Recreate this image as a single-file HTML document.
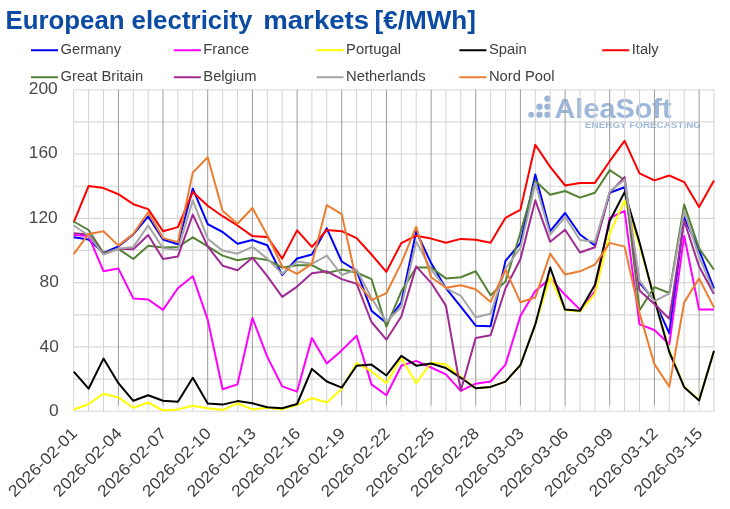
<!DOCTYPE html><html><head><meta charset="utf-8"><style>html,body{margin:0;padding:0;background:#fff}svg{display:block}text{font-family:"Liberation Sans",sans-serif}</style></head><body>
<svg style="will-change:transform" width="730" height="509" viewBox="0 0 730 509">
<rect width="730" height="509" fill="#fff"/>
<text x="5.5" y="28.9" font-size="25.2" font-weight="bold" fill="#0B4BA3" textLength="119" lengthAdjust="spacingAndGlyphs">European</text>
<text x="131.5" y="28.9" font-size="25.2" font-weight="bold" fill="#0B4BA3" textLength="121" lengthAdjust="spacingAndGlyphs">electricity</text>
<text x="263.2" y="28.9" font-size="25.2" font-weight="bold" fill="#0B4BA3" textLength="106" lengthAdjust="spacingAndGlyphs">markets</text>
<text x="374.5" y="28.9" font-size="25.2" font-weight="bold" fill="#0B4BA3" textLength="101.5" lengthAdjust="spacingAndGlyphs">[€/MWh]</text>
<g fill="#9DB7DB">
<circle cx="531.2" cy="114.65" r="2.9"/>
<circle cx="539.5" cy="106.7" r="3.2"/>
<circle cx="539.5" cy="114.65" r="3.2"/>
<circle cx="547.4" cy="98.7" r="3.1"/>
<circle cx="547.4" cy="106.7" r="3.1"/>
<circle cx="547.4" cy="114.65" r="3.1"/>
<text x="554.5" y="117.5" font-size="28.3" font-weight="bold" textLength="117" lengthAdjust="spacingAndGlyphs">AleaSoft</text>
<text x="585" y="127.6" font-size="8.3" font-weight="bold" textLength="116" lengthAdjust="spacingAndGlyphs">ENERGY FORECASTING</text>
</g>
<g stroke="#D8D8D8" stroke-width="1.15" fill="none">
<line x1="73.7" y1="411.2" x2="714.0" y2="411.2"/>
<line x1="73.7" y1="379.1" x2="714.0" y2="379.1"/>
<line x1="73.7" y1="346.9" x2="714.0" y2="346.9"/>
<line x1="73.7" y1="314.8" x2="714.0" y2="314.8"/>
<line x1="73.7" y1="282.6" x2="714.0" y2="282.6"/>
<line x1="73.7" y1="250.4" x2="714.0" y2="250.4"/>
<line x1="73.7" y1="218.3" x2="714.0" y2="218.3"/>
<line x1="73.7" y1="186.2" x2="714.0" y2="186.2"/>
<line x1="73.7" y1="154.0" x2="714.0" y2="154.0"/>
<line x1="73.7" y1="121.9" x2="714.0" y2="121.9"/>
<line x1="73.7" y1="89.7" x2="714.0" y2="89.7"/>
</g>
<g stroke="#D4D4D4" stroke-width="1" fill="none">
<line x1="73.7" y1="89.7" x2="73.7" y2="411.2"/>
<line x1="88.6" y1="89.7" x2="88.6" y2="411.2"/>
<line x1="103.5" y1="89.7" x2="103.5" y2="411.2"/>
<line x1="133.3" y1="89.7" x2="133.3" y2="411.2"/>
<line x1="148.2" y1="89.7" x2="148.2" y2="411.2"/>
<line x1="177.9" y1="89.7" x2="177.9" y2="411.2"/>
<line x1="192.8" y1="89.7" x2="192.8" y2="411.2"/>
<line x1="222.6" y1="89.7" x2="222.6" y2="411.2"/>
<line x1="237.5" y1="89.7" x2="237.5" y2="411.2"/>
<line x1="267.3" y1="89.7" x2="267.3" y2="411.2"/>
<line x1="282.2" y1="89.7" x2="282.2" y2="411.2"/>
<line x1="311.9" y1="89.7" x2="311.9" y2="411.2"/>
<line x1="326.8" y1="89.7" x2="326.8" y2="411.2"/>
<line x1="356.6" y1="89.7" x2="356.6" y2="411.2"/>
<line x1="371.5" y1="89.7" x2="371.5" y2="411.2"/>
<line x1="401.3" y1="89.7" x2="401.3" y2="411.2"/>
<line x1="416.2" y1="89.7" x2="416.2" y2="411.2"/>
<line x1="445.9" y1="89.7" x2="445.9" y2="411.2"/>
<line x1="460.8" y1="89.7" x2="460.8" y2="411.2"/>
<line x1="490.6" y1="89.7" x2="490.6" y2="411.2"/>
<line x1="505.5" y1="89.7" x2="505.5" y2="411.2"/>
<line x1="535.3" y1="89.7" x2="535.3" y2="411.2"/>
<line x1="550.2" y1="89.7" x2="550.2" y2="411.2"/>
<line x1="580.0" y1="89.7" x2="580.0" y2="411.2"/>
<line x1="594.9" y1="89.7" x2="594.9" y2="411.2"/>
<line x1="624.6" y1="89.7" x2="624.6" y2="411.2"/>
<line x1="639.5" y1="89.7" x2="639.5" y2="411.2"/>
<line x1="669.3" y1="89.7" x2="669.3" y2="411.2"/>
<line x1="684.2" y1="89.7" x2="684.2" y2="411.2"/>
<line x1="714.0" y1="89.7" x2="714.0" y2="411.2"/>
</g>
<g stroke="#9C9C9C" stroke-width="1" fill="none">
<line x1="118.4" y1="89.7" x2="118.4" y2="405.8"/>
<line x1="118.4" y1="405.8" x2="118.4" y2="411.2" stroke="#E6E6E6"/>
<line x1="163.0" y1="89.7" x2="163.0" y2="405.8"/>
<line x1="163.0" y1="405.8" x2="163.0" y2="411.2" stroke="#E6E6E6"/>
<line x1="207.7" y1="89.7" x2="207.7" y2="405.8"/>
<line x1="207.7" y1="405.8" x2="207.7" y2="411.2" stroke="#E6E6E6"/>
<line x1="252.4" y1="89.7" x2="252.4" y2="405.8"/>
<line x1="252.4" y1="405.8" x2="252.4" y2="411.2" stroke="#E6E6E6"/>
<line x1="297.1" y1="89.7" x2="297.1" y2="405.8"/>
<line x1="297.1" y1="405.8" x2="297.1" y2="411.2" stroke="#E6E6E6"/>
<line x1="341.7" y1="89.7" x2="341.7" y2="405.8"/>
<line x1="341.7" y1="405.8" x2="341.7" y2="411.2" stroke="#E6E6E6"/>
<line x1="386.4" y1="89.7" x2="386.4" y2="405.8"/>
<line x1="386.4" y1="405.8" x2="386.4" y2="411.2" stroke="#E6E6E6"/>
<line x1="431.1" y1="89.7" x2="431.1" y2="405.8"/>
<line x1="431.1" y1="405.8" x2="431.1" y2="411.2" stroke="#E6E6E6"/>
<line x1="475.7" y1="89.7" x2="475.7" y2="405.8"/>
<line x1="475.7" y1="405.8" x2="475.7" y2="411.2" stroke="#E6E6E6"/>
<line x1="520.4" y1="89.7" x2="520.4" y2="405.8"/>
<line x1="520.4" y1="405.8" x2="520.4" y2="411.2" stroke="#E6E6E6"/>
<line x1="565.1" y1="89.7" x2="565.1" y2="405.8"/>
<line x1="565.1" y1="405.8" x2="565.1" y2="411.2" stroke="#E6E6E6"/>
<line x1="609.7" y1="89.7" x2="609.7" y2="405.8"/>
<line x1="609.7" y1="405.8" x2="609.7" y2="411.2" stroke="#E6E6E6"/>
<line x1="654.4" y1="89.7" x2="654.4" y2="405.8"/>
<line x1="654.4" y1="405.8" x2="654.4" y2="411.2" stroke="#E6E6E6"/>
<line x1="699.1" y1="89.7" x2="699.1" y2="405.8"/>
<line x1="699.1" y1="405.8" x2="699.1" y2="411.2" stroke="#E6E6E6"/>
</g>
<g fill="none" stroke-width="2.0" stroke-linejoin="round" stroke-linecap="butt">
<polyline stroke="#0000FF" points="73.7,237.3 88.6,239.5 103.5,253.0 118.4,246.4 133.3,234.4 148.2,216.4 163.0,239.5 177.9,244.3 192.8,188.6 207.7,224.1 222.6,232.0 237.5,243.7 252.4,240.0 267.3,245.3 282.2,275.0 297.1,258.5 311.9,254.5 326.8,228.3 341.7,261.5 356.6,270.7 371.5,310.7 386.4,323.1 401.3,302.4 416.2,231.5 431.1,263.1 445.9,288.2 460.8,306.7 475.7,325.7 490.6,326.3 505.5,260.9 520.4,243.2 535.3,174.4 550.2,231.2 565.1,213.0 580.0,234.5 594.9,245.5 609.7,192.7 624.6,187.3 639.5,282.8 654.4,300.3 669.3,333.4 684.2,217.5 699.1,250.1 714.0,288.5"/>
<polyline stroke="#FF00FF" points="73.7,235.0 88.6,236.1 103.5,271.2 118.4,268.6 133.3,298.4 148.2,299.5 163.0,309.9 177.9,288.2 192.8,276.2 207.7,319.6 222.6,389.3 237.5,384.4 252.4,318.0 267.3,356.9 282.2,386.4 297.1,391.6 311.9,338.1 326.8,363.5 341.7,350.4 356.6,335.8 371.5,384.4 386.4,395.3 401.3,365.7 416.2,360.9 431.1,367.5 445.9,374.4 460.8,390.8 475.7,383.7 490.6,381.5 505.5,364.6 520.4,316.0 535.3,291.0 550.2,278.4 565.1,294.8 580.0,309.6 594.9,291.6 609.7,218.0 624.6,210.9 639.5,324.4 654.4,330.0 669.3,344.3 684.2,235.7 699.1,309.6 714.0,309.6"/>
<polyline stroke="#FFFF00" points="73.7,409.8 88.6,404.0 103.5,393.7 118.4,397.4 133.3,407.7 148.2,402.5 163.0,410.6 177.9,409.4 192.8,405.7 207.7,408.3 222.6,410.1 237.5,403.3 252.4,409.4 267.3,407.7 282.2,409.4 297.1,405.1 311.9,398.0 326.8,402.5 341.7,388.7 356.6,363.1 371.5,371.2 386.4,383.2 401.3,358.0 416.2,383.2 431.1,362.5 445.9,364.6 460.8,376.6 475.7,388.2 490.6,386.9 505.5,381.6 520.4,365.2 535.3,324.4 550.2,277.3 565.1,309.9 580.0,311.5 594.9,293.9 609.7,233.4 624.6,200.6 639.5,245.6 654.4,297.7 669.3,350.1 684.2,386.8 699.1,400.1 714.0,350.9"/>
<polyline stroke="#000000" points="73.7,371.7 88.6,388.7 103.5,358.6 118.4,383.2 133.3,400.8 148.2,395.3 163.0,400.8 177.9,401.7 192.8,377.8 207.7,403.5 222.6,404.6 237.5,401.1 252.4,403.3 267.3,407.3 282.2,408.3 297.1,404.0 311.9,368.9 326.8,381.5 341.7,387.6 356.6,365.7 371.5,364.6 386.4,375.5 401.3,355.9 416.2,365.7 431.1,363.5 445.9,368.0 460.8,377.8 475.7,388.2 490.6,386.9 505.5,381.6 520.4,365.2 535.3,324.4 550.2,267.5 565.1,309.6 580.0,310.7 594.9,285.0 609.7,221.0 624.6,192.1 639.5,242.4 654.4,299.2 669.3,352.0 684.2,387.2 699.1,400.4 714.0,350.9"/>
<polyline stroke="#FF0000" points="73.7,222.3 88.6,186.0 103.5,188.1 118.4,194.2 133.3,204.2 148.2,209.1 163.0,231.2 177.9,227.1 192.8,191.9 207.7,205.8 222.6,216.2 237.5,225.5 252.4,236.1 267.3,236.9 282.2,258.6 297.1,230.4 311.9,246.9 326.8,230.0 341.7,231.2 356.6,238.1 371.5,254.5 386.4,271.8 401.3,243.1 416.2,235.7 431.1,238.6 445.9,242.7 460.8,238.9 475.7,239.8 490.6,242.7 505.5,217.8 520.4,209.9 535.3,144.7 550.2,166.9 565.1,185.5 580.0,182.9 594.9,182.9 609.7,161.2 624.6,140.8 639.5,173.3 654.4,180.4 669.3,175.5 684.2,182.1 699.1,206.9 714.0,180.4"/>
<polyline stroke="#548235" points="73.7,221.5 88.6,230.0 103.5,253.0 118.4,248.8 133.3,259.0 148.2,245.8 163.0,247.6 177.9,246.9 192.8,237.3 207.7,246.4 222.6,255.6 237.5,260.3 252.4,257.8 267.3,259.9 282.2,267.5 297.1,265.2 311.9,265.2 326.8,273.0 341.7,269.6 356.6,272.5 371.5,279.1 386.4,326.8 401.3,291.4 416.2,267.5 431.1,267.5 445.9,278.4 460.8,277.3 475.7,271.3 490.6,295.3 505.5,281.6 520.4,232.8 535.3,181.0 550.2,194.7 565.1,191.0 580.0,197.6 594.9,192.7 609.7,170.1 624.6,180.0 639.5,310.2 654.4,287.1 669.3,293.0 684.2,204.6 699.1,248.4 714.0,269.7"/>
<polyline stroke="#A02B93" points="73.7,233.2 88.6,234.4 103.5,254.1 118.4,248.8 133.3,249.2 148.2,235.0 163.0,259.0 177.9,256.4 192.8,214.6 207.7,246.4 222.6,265.7 237.5,270.2 252.4,257.7 267.3,276.2 282.2,296.9 297.1,286.6 311.9,273.3 326.8,271.3 341.7,279.1 356.6,283.7 371.5,322.0 386.4,339.7 401.3,316.5 416.2,266.4 431.1,282.8 445.9,305.6 460.8,390.5 475.7,337.9 490.6,335.2 505.5,288.2 520.4,259.3 535.3,200.3 550.2,241.8 565.1,229.7 580.0,252.5 594.9,247.2 609.7,192.7 624.6,177.1 639.5,290.6 654.4,304.0 669.3,318.8 684.2,220.7 699.1,266.5 714.0,293.9"/>
<polyline stroke="#A5A5A5" points="73.7,225.5 88.6,235.5 103.5,254.6 118.4,248.8 133.3,246.9 148.2,225.5 163.0,248.2 177.9,249.8 192.8,200.3 207.7,238.7 222.6,250.6 237.5,253.7 252.4,246.8 267.3,258.6 282.2,273.9 297.1,261.5 311.9,263.8 326.8,255.6 341.7,275.0 356.6,269.6 371.5,298.0 386.4,322.0 401.3,306.7 416.2,241.6 431.1,269.6 445.9,288.2 460.8,295.8 475.7,317.2 490.6,313.8 505.5,268.6 520.4,247.9 535.3,183.3 550.2,234.5 565.1,217.0 580.0,240.0 594.9,241.8 609.7,191.5 624.6,179.6 639.5,280.7 654.4,301.2 669.3,293.5 684.2,210.9 699.1,256.7 714.0,291.8"/>
<polyline stroke="#ED7D31" points="73.7,254.1 88.6,233.9 103.5,231.2 118.4,245.6 133.3,233.9 148.2,212.4 163.0,238.1 177.9,242.1 192.8,172.6 207.7,157.2 222.6,210.7 237.5,223.8 252.4,208.0 267.3,235.2 282.2,266.4 297.1,273.9 311.9,263.8 326.8,205.1 341.7,214.1 356.6,281.6 371.5,300.1 386.4,293.2 401.3,263.1 416.2,226.7 431.1,277.3 445.9,287.7 460.8,285.3 475.7,289.2 490.6,301.9 505.5,269.6 520.4,302.2 535.3,297.5 550.2,253.7 565.1,274.6 580.0,271.3 594.9,264.6 609.7,242.9 624.6,246.6 639.5,313.1 654.4,364.1 669.3,386.6 684.2,302.4 699.1,278.4 714.0,307.5"/>
</g>
<g font-size="15.7" fill="#4A4A4A" text-anchor="end">
<text x="58.8" y="416.0" textLength="9.7" lengthAdjust="spacingAndGlyphs">0</text>
<text x="58.8" y="351.6" textLength="19.3" lengthAdjust="spacingAndGlyphs">40</text>
<text x="58.8" y="287.1" textLength="19.3" lengthAdjust="spacingAndGlyphs">80</text>
<text x="57.8" y="222.7" textLength="29.0" lengthAdjust="spacingAndGlyphs">120</text>
<text x="57.8" y="158.2" textLength="29.0" lengthAdjust="spacingAndGlyphs">160</text>
<text x="57.8" y="93.8" textLength="29.0" lengthAdjust="spacingAndGlyphs">200</text>
</g>
<g font-size="16.2" fill="#404040" text-anchor="end">
<text transform="translate(78.1,434.4) rotate(-45)" textLength="89.5" lengthAdjust="spacingAndGlyphs">2026-02-01</text>
<text transform="translate(122.8,434.4) rotate(-45)" textLength="89.5" lengthAdjust="spacingAndGlyphs">2026-02-04</text>
<text transform="translate(167.4,434.4) rotate(-45)" textLength="89.5" lengthAdjust="spacingAndGlyphs">2026-02-07</text>
<text transform="translate(212.1,434.4) rotate(-45)" textLength="89.5" lengthAdjust="spacingAndGlyphs">2026-02-10</text>
<text transform="translate(256.8,434.4) rotate(-45)" textLength="89.5" lengthAdjust="spacingAndGlyphs">2026-02-13</text>
<text transform="translate(301.4,434.4) rotate(-45)" textLength="89.5" lengthAdjust="spacingAndGlyphs">2026-02-16</text>
<text transform="translate(346.1,434.4) rotate(-45)" textLength="89.5" lengthAdjust="spacingAndGlyphs">2026-02-19</text>
<text transform="translate(390.8,434.4) rotate(-45)" textLength="89.5" lengthAdjust="spacingAndGlyphs">2026-02-22</text>
<text transform="translate(435.5,434.4) rotate(-45)" textLength="89.5" lengthAdjust="spacingAndGlyphs">2026-02-25</text>
<text transform="translate(480.1,434.4) rotate(-45)" textLength="89.5" lengthAdjust="spacingAndGlyphs">2026-02-28</text>
<text transform="translate(524.8,434.4) rotate(-45)" textLength="89.5" lengthAdjust="spacingAndGlyphs">2026-03-03</text>
<text transform="translate(569.5,434.4) rotate(-45)" textLength="89.5" lengthAdjust="spacingAndGlyphs">2026-03-06</text>
<text transform="translate(614.1,434.4) rotate(-45)" textLength="89.5" lengthAdjust="spacingAndGlyphs">2026-03-09</text>
<text transform="translate(658.8,434.4) rotate(-45)" textLength="89.5" lengthAdjust="spacingAndGlyphs">2026-03-12</text>
<text transform="translate(703.5,434.4) rotate(-45)" textLength="89.5" lengthAdjust="spacingAndGlyphs">2026-03-15</text>
</g>
<g font-size="14.75" fill="#404040">
<line x1="31.0" y1="50.25" x2="58.0" y2="50.25" stroke="#0000FF" stroke-width="2"/>
<text x="60.5" y="54">Germany</text>
<line x1="173.8" y1="50.25" x2="200.8" y2="50.25" stroke="#FF00FF" stroke-width="2"/>
<text x="203.3" y="54">France</text>
<line x1="316.6" y1="50.25" x2="343.6" y2="50.25" stroke="#FFFF00" stroke-width="2"/>
<text x="346.1" y="54">Portugal</text>
<line x1="459.4" y1="50.25" x2="486.4" y2="50.25" stroke="#000000" stroke-width="2"/>
<text x="488.9" y="54">Spain</text>
<line x1="602.2" y1="50.25" x2="629.2" y2="50.25" stroke="#FF0000" stroke-width="2"/>
<text x="631.7" y="54">Italy</text>
<line x1="31.0" y1="77.25" x2="58.0" y2="77.25" stroke="#548235" stroke-width="2"/>
<text x="60.5" y="81">Great Britain</text>
<line x1="173.8" y1="77.25" x2="200.8" y2="77.25" stroke="#A02B93" stroke-width="2"/>
<text x="203.3" y="81">Belgium</text>
<line x1="316.6" y1="77.25" x2="343.6" y2="77.25" stroke="#A5A5A5" stroke-width="2"/>
<text x="346.1" y="81">Netherlands</text>
<line x1="459.4" y1="77.25" x2="486.4" y2="77.25" stroke="#ED7D31" stroke-width="2"/>
<text x="488.9" y="81">Nord Pool</text>
</g>
</svg></body></html>
